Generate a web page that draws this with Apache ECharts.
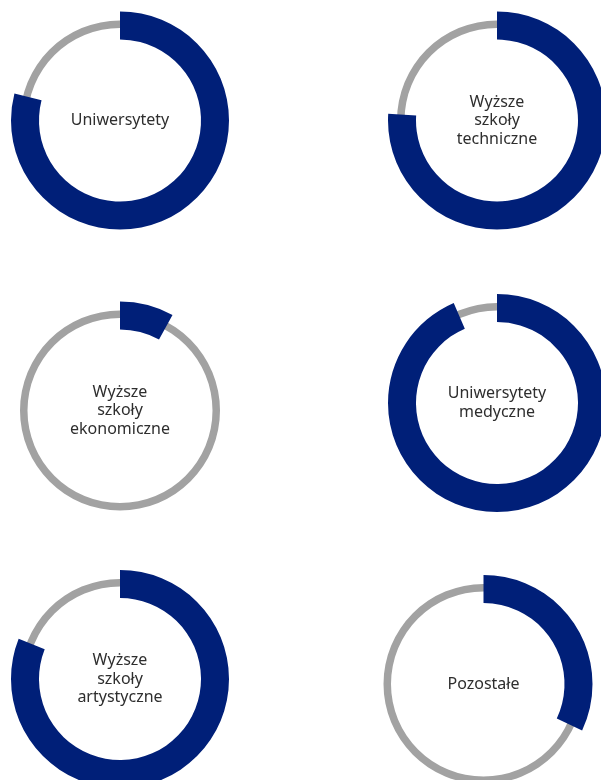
<!DOCTYPE html>
<html>
<head>
<meta charset="utf-8">
<script src="https://cdn.jsdelivr.net/npm/echarts@6/dist/echarts.min.js"></script>
<style>
    html, body { margin: 0; padding: 0; background: #ffffff; }
    #chart { width: 601px; height: 780px; }
</style>
</head>
<body>
<div id="chart"></div>
<script>
// 数据
const categories = [
    'Uniwersytety',
    'Wyższe\nszkoły\ntechniczne',
    'Wyższe\nszkoły\nekonomiczne',
    'Uniwersytety\nmedyczne',
    'Wyższe\nszkoły\nartystyczne',
    'Pozostałe'
];
const shares = [79, 76, 8, 93.5, 81, 32];

// 布局 (圆心位置)
const centers = [
    [120, 120.5], [497, 120.5],
    [120, 410.5], [497, 403],
    [120, 679], [483.5, 684]
];

const colors = {
    navy: '#001f78',
    gray: '#a2a2a2',
    text: '#2e2e2e'
};

const series = [];
categories.forEach((name, i) => {
    // 灰色细环
    series.push({
        type: 'pie',
        silent: true,
        center: centers[i],
        radius: [92.5, 100],
        label: { show: false },
        labelLine: { show: false },
        itemStyle: { color: colors.gray, borderWidth: 0 },
        data: [{ value: 1, name: 'bg' + i }]
    });
    // 深蓝色占比
    series.push({
        type: 'pie',
        silent: true,
        center: centers[i],
        radius: [81, 109],
        startAngle: 90,
        clockwise: true,
        avoidLabelOverlap: false,
        labelLine: { show: false },
        itemStyle: { borderWidth: 0 },
        data: [{
            value: shares[i],
            name: name,
            itemStyle: { color: colors.navy },
            label: {
                show: true,
                position: 'center',
                formatter: '{b}',
                color: colors.text,
                fontSize: 16,
                lineHeight: 18.5,
                fontFamily: 'Noto Sans, sans-serif'
            }
        }, {
            value: 100 - shares[i],
            name: 'rest' + i,
            itemStyle: { color: 'transparent' },
            label: { show: false }
        }]
    });
});

const chart = echarts.init(document.getElementById('chart'));
chart.setOption({
    backgroundColor: '#ffffff',
    animation: false,
    series: series
});
</script>
</body>
</html>
